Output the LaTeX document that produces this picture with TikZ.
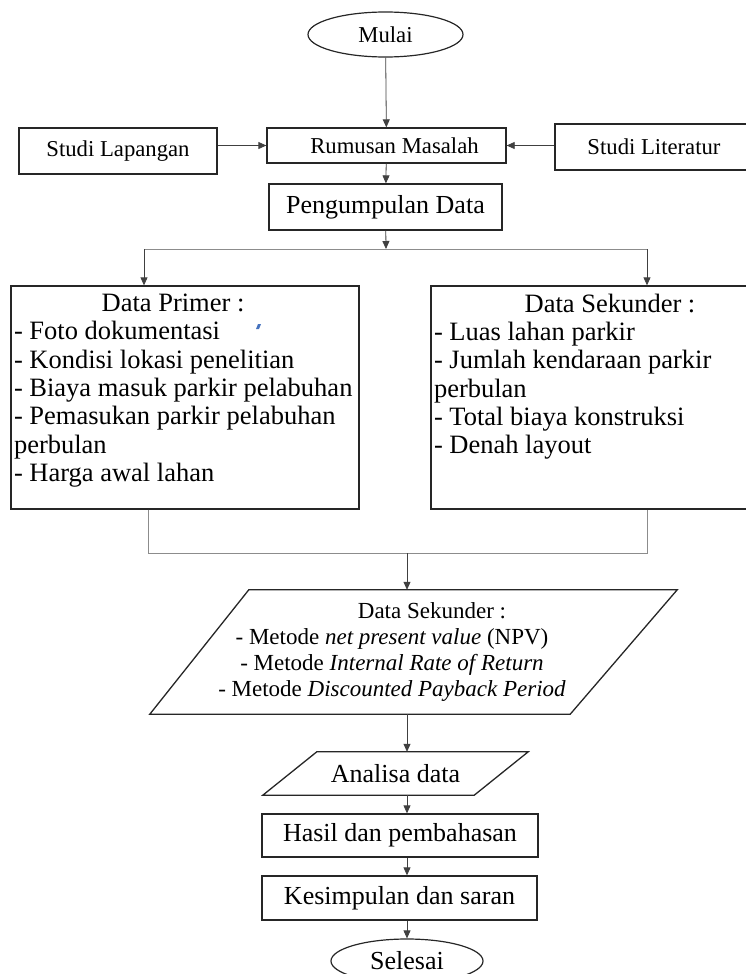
\documentclass[tikz,border=0pt]{standalone}
\usepackage{fontspec}
\setmainfont{Liberation Serif}
\usetikzlibrary{arrows.meta,shapes.geometric}
\tikzset{>={Triangle[length=8pt,width=7pt]}}
\definecolor{biru}{RGB}{70,115,190}

\newcommand{\kecil}{\fontsize{22.7pt}{26pt}\selectfont}
\newcommand{\besar}{\fontsize{26pt}{29pt}\selectfont}
\newcommand{\sedang}{\fontsize{26.5pt}{28.3pt}\selectfont}
\newcommand{\miring}{\fontsize{23pt}{26.3pt}\selectfont}

\tikzset{
  kotak/.style={draw=black!85, line width=1.3pt, minimum height=46pt, inner sep=0pt, font=\kecil},
  oval/.style={ellipse, draw=black!85, line width=1.2pt, minimum width=155pt, minimum height=45pt, inner sep=0pt, font=\kecil},
  daftar/.style={draw=black!85, line width=1.3pt, inner xsep=3pt, inner ysep=5pt, font=\sedang},
  panah/.style={->, draw=black!75, line width=0.8pt},
  garis/.style={draw=black!45, line width=1pt},
}

\begin{document}
\begin{tikzpicture}[x=1pt,y=-1pt]
        \useasboundingbox (0,0) rectangle (746,974);
        \clip (0,0) rectangle (746,974);

        %start and problem
        \node[oval] (mulai) at (385.5,34.5) {Mulai};
        \node[kotak, minimum width=198pt] (lapangan) at (118,151) {Studi Lapangan};
        \node[kotak, minimum width=239pt, minimum height=35pt] (rumusan) at (386.5,145.5) {\hspace*{16pt}Rumusan Masalah};
        \node[kotak, minimum width=198pt] (literatur) at (654,147) {Studi Literatur};
        \node[kotak, minimum width=233pt, font=\besar] (pengumpulan) at (385.5,207) {Pengumpulan Data};

        %data boxes
        \node[daftar] (primer) at (185,397.5) {\begin{minipage}[c][213pt][t]{342pt}
            \vspace*{3pt}
            {\centering\hspace*{-24pt}Data Primer :\par}
            - Foto dokumentasi\par
            - Kondisi lokasi penelitian\par
            - Biaya masuk parkir pelabuhan\par
            - Pemasukan parkir pelabuhan\par
            perbulan\par
            - Harga awal lahan\par
          \end{minipage}};
        \node[daftar] (sekunder) at (610,397.5) {\begin{minipage}[c][213pt][t]{352pt}
            \vspace*{3pt}
            {\centering Data Sekunder :\par}
            - Luas lahan parkir\par
            - Jumlah kendaraan parkir\par
            perbulan\par
            - Total biaya konstruksi\par
            - Denah layout\par
          \end{minipage}};
        \fill[biru] (256,329) -- (258,324) -- (261,324) -- (259,329) -- cycle;

        %methods
        \node[minimum width=420pt, minimum height=124pt, inner sep=0pt, font=\miring, align=center] (metode) at (392,652)
          {\hspace*{80pt}Data Sekunder :\\
           - Metode \textit{net present value} (NPV)\\
           - Metode \textit{Internal Rate of Return}\\
           - Metode \textit{Discounted Payback Period}};
        \draw[draw=black!85, line width=1.3pt] ([xshift=-32pt]metode.south west) -- ([xshift=67pt]metode.north west)
          -- ([xshift=75pt]metode.north east) -- ([xshift=-32pt]metode.south east) -- cycle;

        \node[minimum width=211pt, minimum height=43pt, inner sep=0pt, font=\besar] (analisa) at (395.5,773.5) {Analisa data};
        \draw[draw=black!85, line width=1.3pt] ([xshift=-27pt]analisa.south west) -- ([xshift=27pt]analisa.north west)
          -- ([xshift=27pt]analisa.north east) -- ([xshift=-27pt]analisa.south east) -- cycle;

        %results
        \node[kotak, minimum width=276pt, minimum height=43pt, font=\besar] (hasil) at (400,835.5) {Hasil dan pembahasan};
        \node[kotak, minimum width=275pt, minimum height=44pt, font=\besar] (kesimpulan) at (399.5,898) {Kesimpulan dan saran};
        \node[oval, minimum width=152pt, minimum height=44pt, font=\besar] (selesai) at (407,961) {Selesai};

        %branch points
        \coordinate (cabang) at (386,249);
        \coordinate (cabangkiri) at (144,249);
        \coordinate (cabangkanan) at (647,249);
        \coordinate (gabung) at (407,553);
        \coordinate (gabungkiri) at (148,553);
        \coordinate (gabungkanan) at (647,553);

        %arrows
        \draw[panah] (mulai) -- (rumusan);
        \draw[panah] (lapangan.east |- rumusan) -- (rumusan);
        \draw[panah] (literatur.west |- rumusan) -- (rumusan);
        \draw[panah] (rumusan) -- (pengumpulan);
        \draw[panah] (pengumpulan) -- (cabang);
        \draw[garis] (cabangkiri) -- (cabangkanan);
        \draw[panah] (cabangkiri) -- (cabangkiri |- primer.north);
        \draw[panah] (cabangkanan) -- (cabangkanan |- sekunder.north);
        \draw[garis] (gabungkiri |- primer.south) -- (gabungkiri) -- (gabungkanan) -- (gabungkanan |- sekunder.south);
        \draw[panah] (gabung) -- (gabung |- metode.north);
        \draw[panah] (metode.south -| gabung) -- (analisa.north -| gabung);
        \draw[panah] (analisa.south -| gabung) -- (hasil.north -| gabung);
        \draw[panah] (hasil.south -| gabung) -- (kesimpulan.north -| gabung);
        \draw[panah] (kesimpulan.south -| gabung) -- (selesai);

\end{tikzpicture}
\end{document}
